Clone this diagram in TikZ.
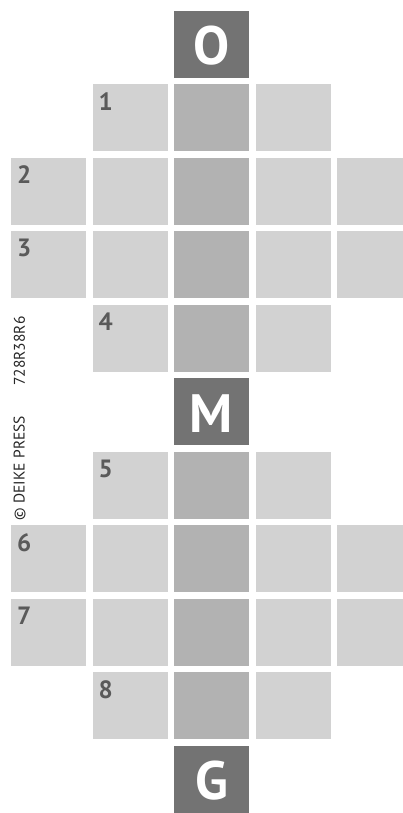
\documentclass[tikz,border=0pt]{standalone}
\usepackage{fontspec}
\setmainfont{PT Sans}
\usetikzlibrary{positioning}

\definecolor{cellgray}{HTML}{D2D2D2}
\definecolor{midgray}{HTML}{B2B2B2}
\definecolor{lettergray}{HTML}{737373}
\definecolor{numgray}{HTML}{5A5A5A}

% top left corner of a cell, counted in columns and rows
\newcommand{\cellx}[1]{11+81.5*#1}
\newcommand{\celly}[1]{10.7+73.5*#1}

\begin{document}
\begin{tikzpicture}[x=1pt,y=-1pt,
    numlabel/.style={anchor=north west,inner sep=0pt,text=numgray,
      font=\bfseries\fontsize{25}{25}\selectfont},
    letterlabel/.style={inner sep=0pt,text=white,
      font=\bfseries\fontsize{54}{54}\selectfont},
    credit/.style={rotate=90,inner sep=0pt,text=black!85,
      font=\fontsize{15.5}{15.5}\selectfont}]
        \useasboundingbox (0,0) rectangle (402,813);

        % Schmale Zeilen (drei Felder)
        \foreach \r in {1,4,6,9} {
            \foreach \c in {1,3}
                \fill[cellgray] (\cellx{\c},\celly{\r}) rectangle ++(75,67);
            \fill[midgray] (\cellx{2},\celly{\r}) rectangle ++(75,67);
        }

        % Breite Zeilen (fuenf Felder)
        \foreach \r in {2,3,7,8} {
            \foreach \c in {0,1,3,4}
                \fill[cellgray] (\cellx{\c},\celly{\r}) rectangle ++(75,67);
            \fill[midgray] (\cellx{2},\celly{\r}) rectangle ++(75,67);
        }

        % Vorgegebene Buchstaben
        \foreach \r/\l in {0/O,5/M,10/G} {
            \fill[lettergray] (\cellx{2},\celly{\r}) rectangle ++(75,67);
            \node[letterlabel] (letter\l) at (\cellx{2}+37.5,\celly{\r}+35) {\l};
        }

        % Nummern
        \foreach \n/\c/\r in {1/1/1,2/0/2,3/0/3,4/1/4,5/1/6,6/0/7,7/0/8,8/1/9}
            \node[numlabel] (num\n) at (\cellx{\c}+6,\celly{\r}+8) {\n};

        % Vermerk am Rand
        \node[credit] (code) at (19.5,351) {728R38R6};
        \node[credit] (press) at (19.5,468) {\textcopyright{} DEIKE PRESS};
    \end{tikzpicture}
\end{document}
